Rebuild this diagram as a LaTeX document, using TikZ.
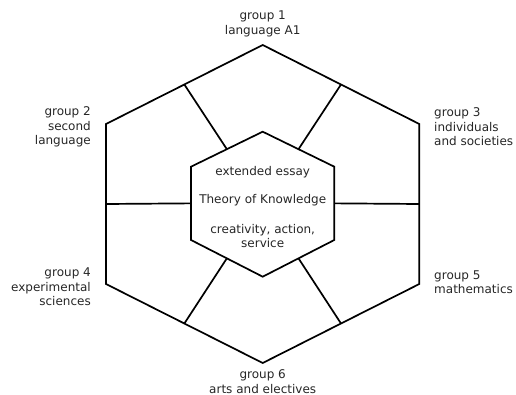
\documentclass[tikz,border=0pt]{standalone}
\usepackage{fontspec}
\setmainfont{DejaVu Sans}
\usetikzlibrary{calc}
\begin{document}
\begin{tikzpicture}[x=1pt,y=-1pt,
	grupo/.style={font=\fontsize{12}{14.5}\selectfont, text=black!85, inner sep=0pt},
	borde/.style={line width=1.7pt, line join=miter}]
	\useasboundingbox (0,0) rectangle (516,395);
	% Hexagono exterior
		\coordinate (o1) at (262.7,45);
		\coordinate (o2) at (106,124);
		\coordinate (o3) at (106,284);
		\coordinate (o4) at (262.7,363);
		\coordinate (o5) at (419.3,284);
		\coordinate (o6) at (419.3,124);
		\draw[borde] (o1) -- (o2) -- (o3) -- (o4) -- (o5) -- (o6) -- cycle;
	% Hexagono interior
		\coordinate (i1) at (262.7,131.7);
		\coordinate (i2) at (191,166.7);
		\coordinate (i3) at (191,240);
		\coordinate (i4) at (262.7,276.7);
		\coordinate (i5) at (334.3,240);
		\coordinate (i6) at (334.3,166.7);
		\draw[borde] (i1) -- (i2) -- (i3) -- (i4) -- (i5) -- (i6) -- cycle;
	% Radios
		\foreach \a/\b in {1/2,2/3,3/4,4/5,5/6,6/1}
			\draw[borde] ($(o\a)!0.5!(o\b)$) -- ($(i\a)!0.5!(i\b)$);
	% Centro
		\node[grupo] (ee) at (262.7,172) {extended essay};
		\node[grupo] (tok) at (262.7,200) {Theory of Knowledge};
		\node[grupo, align=center] (cas) at (262.7,236) {creativity, action,\\service};
	% Grupos
		\node[grupo, align=center] (g1) at (262.7,24) {group 1\\language A1};
		\node[grupo, align=right, anchor=east] (g2) at (91,127) {group 2\\second\\language};
		\node[grupo, align=left, anchor=west] (g3) at (434,127) {group 3\\individuals\\and societies};
		\node[grupo, align=right, anchor=east] (g4) at (91,287) {group 4\\experimental\\sciences};
		\node[grupo, align=left, anchor=west] (g5) at (434,282) {group 5\\mathematics};
		\node[grupo, align=center] (g6) at (262.7,381.5) {group 6\\arts and electives};
\end{tikzpicture}
\end{document}
